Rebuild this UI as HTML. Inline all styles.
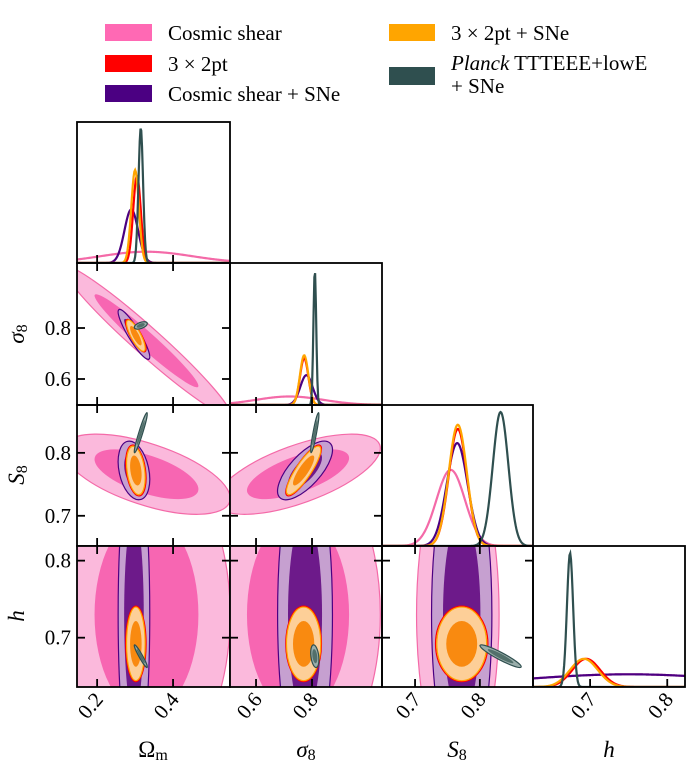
<!DOCTYPE html>
<html><head><meta charset="utf-8"><style>
html,body{margin:0;background:#fff;overflow:hidden;width:700px;height:783px}
svg{display:block}
svg text{font-family:"Liberation Serif",serif;fill:#000}
</style></head><body>
<svg id="chart" width="700" height="783" viewBox="0 0 700 783" xmlns="http://www.w3.org/2000/svg">
<g id="legend">
 <rect x="105" y="24" width="47" height="17" fill="#ff69b4"/>
 <text x="168" y="40" font-size="21">Cosmic shear</text>
 <rect x="105" y="55" width="47" height="17" fill="#ff0000"/>
 <text x="168" y="71" font-size="21">3 × 2pt</text>
 <rect x="105" y="85" width="47" height="17" fill="#4b0082"/>
 <text x="168" y="101" font-size="21">Cosmic shear + SNe</text>
 <rect x="389" y="24" width="46" height="17" fill="#ffa500"/>
 <text x="451" y="40" font-size="21">3 × 2pt + SNe</text>
 <rect x="389" y="67" width="46" height="18" fill="#2f4f4f"/>
 <text x="451" y="70" font-size="21"><tspan font-style="italic">Planck</tspan> TTTEEE+lowE</text>
 <text x="451" y="93" font-size="21">+ SNe</text>
</g>
<g id="plots"></g>
</svg>
<script>
// parameters: Omega_m, sigma_8, S_8, h
const paramNames = ["Ωm","σ8","S8","h"];
const seriesNames = ["cosmic-shear","cs-sne","3x2pt","3x2pt-sne","planck-sne"];
// 2D posterior summaries (mean, sd) per series, order [Om, s8, S8, h]
const means2D = [[0.33,0.75,0.766,0.73],[0.297,0.775,0.772,0.73],[0.302,0.77,0.772,0.692],[0.302,0.77,0.772,0.692],[0.315,0.81,0.832,0.676]];
const sds2D = [[0.09,0.12,0.026,0.085],[0.017,0.04,0.019,0.085],[0.011,0.026,0.0165,0.02],[0.010,0.025,0.0157,0.0195],[0.007,0.006,0.013,0.006]];
// correlations: [Om-s8, Om-S8, s8-S8, Om-h, s8-h, S8-h]
const corr2D = [[-0.97,-0.6,0.65,0,0,0],[-0.9,-0.3,0.7,0,0,0],[-0.8,-0.3,0.85,0,0,0],[-0.8,-0.3,0.85,0,0,0],[0.5,0.95,0.9,-0.95,-0.3,-0.93]];
// 1D marginals: mean, sd, peak height (fraction of panel)
const means1D = [[0.33,0.72,0.755,0.75],[0.29,0.78,0.765,0.75],[0.305,0.772,0.766,0.695],[0.30,0.772,0.766,0.692],[0.315,0.81,0.832,0.674]];
const sds1D = [[0.12,0.12,0.022,0.14],[0.018,0.022,0.016,0.14],[0.01,0.015,0.014,0.018],[0.01,0.015,0.014,0.018],[0.006,0.005,0.012,0.004]];
const peaks1D = [[0.08,0.06,0.54,0.09],[0.38,0.21,0.73,0.09],[0.62,0.33,0.83,0.2],[0.66,0.35,0.86,0.2],[0.96,0.95,0.95,0.95]];
const xTicks = [[0.2,0.4],[0.6,0.8],[0.7,0.8],[0.7,0.8]];
const yTicks = [null,[0.6,0.8],[0.7,0.8],[0.7,0.8]];
const tickLabelsX = [["0.2","0.4"],["0.6","0.8"],["0.7","0.8"],["0.7","0.8"]];

const ranges = [[0.147,0.55],[0.507,1.05],[0.649,0.882],[0.626,0.823]];
const yRanges = [null,[0.498,1.055],[0.652,0.876],[0.636,0.819]];
const colX = [77,230,382,533,685];
const rowY = [122,263,405,546,687];
const fill95 = ["#fbb9dc","#c6a0d0","#ffb0a0","#fdcf98","#9aaeab"];
const fill68 = ["#f766b2","#6d1a8a","#ff5030","#f98a10","#52706b"];
const edge = ["#f46aa8","#4b0082","#ff0000","#ffa500","#2f4f4f"];
const NS="http://www.w3.org/2000/svg";
const root=document.getElementById('plots');
function mk(t,a,p){const e=document.createElementNS(NS,t);for(const k in a)e.setAttribute(k,a[k]);(p||root).appendChild(e);return e;}
function xs(i,v){const r=ranges[i];return colX[i]+(v-r[0])/(r[1]-r[0])*(colX[i+1]-colX[i]);}
function ys(j,v){const r=yRanges[j];return rowY[j+1]-(v-r[0])/(r[1]-r[0])*(rowY[j+1]-rowY[j]);}
function ci(a,b){const m={"0,1":0,"0,2":1,"1,2":2,"0,3":3,"1,3":4,"2,3":5};return m[a+","+b];}
const defs=mk('defs',{});
for(let j=0;j<4;j++){
 for(let i=0;i<=j;i++){
  const cid='clip'+i+'_'+j;
  const cp=mk('clipPath',{id:cid},defs);
  mk('rect',{x:colX[i],y:rowY[j],width:colX[i+1]-colX[i],height:rowY[j+1]-rowY[j]},cp);
  const g=mk('g',{'clip-path':'url(#'+cid+')'});
  
  
  if(i===j){
   const H=rowY[j+1]-rowY[j];
   for(let s=0;s<5;s++){
    let d='';
    for(let k=0;k<=200;k++){
     const v=ranges[i][0]+(ranges[i][1]-ranges[i][0])*k/200;
     const z=(v-means1D[s][i])/sds1D[s][i];
     const y=rowY[j+1]-peaks1D[s][i]*H*Math.exp(-0.5*z*z);
     d+=(k?'L':'M')+xs(i,v).toFixed(2)+','+y.toFixed(2);
    }
    const p=mk('path',{d:d,fill:'none',stroke:edge[s],'stroke-width':2.2},g);
    
    
   }
  } else {
   for(let s=0;s<5;s++){
    const sx=sds2D[s][i]*(colX[i+1]-colX[i])/(ranges[i][1]-ranges[i][0]);
    const sy=-sds2D[s][j]*(rowY[j+1]-rowY[j])/(yRanges[j][1]-yRanges[j][0]);
    const rho=corr2D[s][ci(i,j)];
    const a=sx*sx,b=rho*sx*sy,c=sy*sy;
    const tr=(a+c)/2,df=Math.sqrt(((a-c)/2)**2+b*b);
    const l1=tr+df,l2=Math.max(tr-df,0.01);
    const ang=Math.atan2(l1-a,b||1e-9)*180/Math.PI;
    const angle=(Math.abs(b)<1e-9)?(a>=c?0:90):ang;
    const cx=xs(i,means2D[s][i]),cy=ys(j,means2D[s][j]);
    [[2.45,fill95[s]],[1.52,fill68[s]]].forEach(([k,f],n)=>{
     const e=mk('ellipse',{cx:cx,cy:cy,rx:k*Math.sqrt(l1),ry:k*Math.sqrt(l2),fill:f,stroke:edge[s],'stroke-width':n?0:1.2,transform:'rotate('+angle+' '+cx+' '+cy+')'},g);
     
     
    });
   }
  }
  const fr=mk('rect',{x:colX[i],y:rowY[j],width:colX[i+1]-colX[i],height:rowY[j+1]-rowY[j],fill:'none',stroke:'#000','stroke-width':1.8});
  
  
  xTicks[i].forEach(t=>{const x=xs(i,t);
   mk('line',{x1:x,x2:x,y1:rowY[j+1],y2:rowY[j+1]-8,stroke:'#000','stroke-width':1.8});
   if(i!==j) mk('line',{x1:x,x2:x,y1:rowY[j],y2:rowY[j]+8,stroke:'#000','stroke-width':1.8});});
  if(i!==j) yTicks[j].forEach(t=>{const y=ys(j,t);
   mk('line',{x1:colX[i],x2:colX[i]+8,y1:y,y2:y,stroke:'#000','stroke-width':1.8});
   mk('line',{x1:colX[i+1],x2:colX[i+1]-8,y1:y,y2:y,stroke:'#000','stroke-width':1.8});});
 }
}
for(let i=0;i<4;i++){
 xTicks[i].forEach((t,k)=>{const x=xs(i,t);
  const tx=mk('text',{x:x+7,y:700,'font-size':21,'text-anchor':'end',transform:'rotate(-50 '+(x+7)+' 700)'});
  tx.textContent=tickLabelsX[i][k];
  
  });
}
for(let j=1;j<4;j++){
 yTicks[j].forEach(t=>{const y=ys(j,t);
  const tx=mk('text',{x:71,y:y+7,'font-size':21,'text-anchor':'end'});
  tx.textContent=t.toFixed(1);
  
  });
}
const xt=[["Ω","m",153],["σ","8",306],["S","8",457],["h","",609]];
xt.forEach(([a,b,x],k)=>{const t=mk('text',{x:x,y:757,'font-size':23,'text-anchor':'middle'});
 t.innerHTML='<tspan'+(k?' font-style="italic"':'')+'>'+a+'</tspan><tspan font-size="16" dy="3">'+b+'</tspan>';
 
 });
const yt=[["σ","8",334],["S","8",475],["h","",616]];
yt.forEach(([a,b,y],k)=>{const t=mk('text',{x:24,y:y,'font-size':23,'text-anchor':'middle',transform:'rotate(-90 24 '+y+')'});
 t.innerHTML='<tspan font-style="italic">'+a+'</tspan><tspan font-size="16" dy="3">'+b+'</tspan>';
 
 });
</script>
</body></html>
